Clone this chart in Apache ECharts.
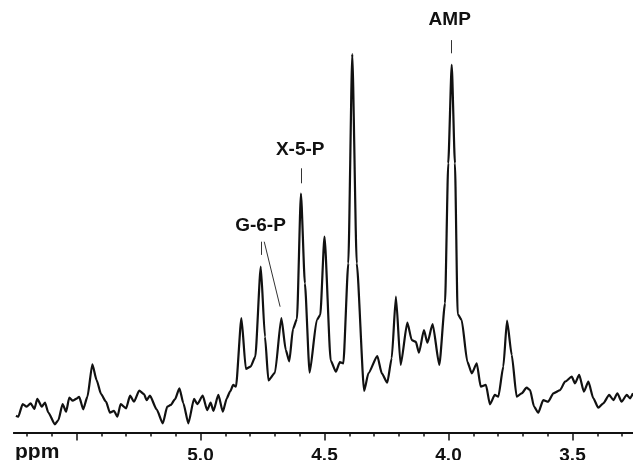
<!DOCTYPE html>
<html>
<head>
<meta charset="utf-8">
<script src="https://cdn.jsdelivr.net/npm/echarts@6/dist/echarts.min.js"></script>
<style>
html,body{margin:0;padding:0;background:#fff;}
#chart{width:633px;height:460px;}
</style>
</head>
<body>
<div id="chart"></div>
<script>
// Chemical shift (ppm) and signal intensity (arbitrary units)
const shiftPpm = [
5.744,5.735,5.717,5.701,5.685,5.670,5.658,5.640,5.627,5.614,
5.587,5.573,5.556,5.542,5.529,5.515,5.502,5.489,5.473,5.456,
5.436,5.419,5.401,5.381,5.365,5.349,5.335,5.322,5.300,5.284,
5.268,5.247,5.228,5.217,5.204,5.177,5.152,5.134,5.120,5.103,
5.085,5.069,5.049,5.026,5.013,4.991,4.973,4.959,4.948,4.928,
4.910,4.894,4.881,4.868,4.857,4.835,4.817,4.798,4.779,4.757,
4.740,4.726,4.700,4.674,4.656,4.642,4.627,4.611,4.595,4.579,
4.560,4.531,4.517,4.500,4.475,4.454,4.438,4.424,4.404,4.388,
4.370,4.340,4.323,4.287,4.269,4.247,4.229,4.212,4.193,4.166,
4.148,4.132,4.119,4.099,4.085,4.064,4.037,4.014,4.001,3.987,
3.974,3.963,3.947,3.924,3.906,3.886,3.870,3.849,3.833,3.813,
3.799,3.779,3.764,3.745,3.725,3.705,3.685,3.671,3.655,3.638,
3.618,3.598,3.577,3.550,3.530,3.503,3.490,3.473,3.454,3.436,
3.416,3.396,3.376,3.352,3.335,3.319,3.302,3.281,3.268,3.256
];
const intensity = [
4.2,3.95,7.1,6.45,7.3,5.9,8.4,6.45,7.45,5.05,
2.05,3.1,7.1,5.2,8.7,7.95,8.4,8.9,5.8,8.95,
17.05,13.1,9.6,7.7,4.95,5.4,3.95,7.1,6.05,9.2,
7.7,10.45,9.6,8.1,9.2,5.8,2.3,6.45,6.9,8.3,
11.05,7.3,2.3,8.4,7.1,9.2,5.6,7.45,5.4,9.4,
5.2,8.55,10.2,11.9,11.45,28.6,15.9,16.45,18.95,41.45,
23.95,13.0,14.9,28.6,20.6,17.8,25.9,28.4,59.75,37.3,
14.95,28.1,29.4,49.0,18.0,15.2,17.6,17.3,42.3,94.6,
42.3,10.4,14.8,19.1,14.8,12.45,18.55,33.95,16.9,27.45,
23.1,22.7,19.95,25.6,22.45,27.1,16.9,32.3,67.3,91.9,
67.3,29.6,28.1,17.7,14.8,17.3,11.45,11.9,7.05,9.4,
8.95,16.45,27.95,19.4,8.95,9.8,11.2,10.6,6.45,4.95,
8.1,7.7,9.8,10.6,12.7,13.95,12.3,14.4,10.2,12.7,
8.55,6.2,7.3,9.4,8.1,9.8,7.7,9.4,8.55,9.8
];

// Axis range and ticks (ppm)
const axisMin = 3.256;
const axisMax = 5.752;
const intensityMax = 108.125;
const majorTicks = [3.5, 4.0, 4.5, 5.0, 5.5];
const minorTicks = [3.3,3.4,3.6,3.7,3.8,3.9,4.1,4.2,4.3,4.4,4.6,4.7,4.8,4.9,5.1,5.2,5.3,5.4,5.6,5.7];
const tickLabels = [3.5, 4.0, 4.5, 5.0];
const axisUnit = 'ppm';

// Peak annotations
const annotNames = ['G-6-P', 'X-5-P', 'AMP'];
const annotLabelPpm = [4.758, 4.598, 3.995];
const annotLabelInt = [51.7, 70.6, 103.2];
// leader lines: from (ppmA, intA) to (ppmB, intB)
const leaderPpmA = [4.756, 4.743, 4.595, 3.990];
const leaderIntA = [47.7, 47.7, 66.05, 98.1];
const leaderPpmB = [4.756, 4.679, 4.595, 3.990];
const leaderIntB = [44.4, 31.45, 62.3, 94.8];

const FONT = "'Liberation Sans', Arial, Helvetica, sans-serif";
const INK = '#111';

const spectrum = shiftPpm.map((p, i) => [p, intensity[i]]);
const markPts = annotNames.map((n, i) => ({
  name: n, coord: [annotLabelPpm[i], annotLabelInt[i]]
}));
const markLns = leaderPpmA.map((p, i) => [
  { coord: [p, leaderIntA[i]] },
  { coord: [leaderPpmB[i], leaderIntB[i]] }
]);

const chart = echarts.init(document.getElementById('chart'), null, { renderer: 'canvas' });
chart.setOption({
  animation: false,
  backgroundColor: '#fff',
  grid: { left: 14, right: 0, top: 0, bottom: 27.5, containLabel: false, outerBoundsMode: 'none' },
  xAxis: [
    {
      type: 'value', inverse: true, min: axisMin, max: axisMax, position: 'bottom',
      axisLine: { show: true, lineStyle: { color: INK, width: 2 } },
      axisTick: { show: true, customValues: majorTicks, length: 8, lineStyle: { color: INK, width: 1.5 } },
      axisLabel: {
        show: true, customValues: tickLabels, margin: 14,
        formatter: v => v.toFixed(1),
        fontFamily: FONT, fontSize: 19, fontWeight: 'bold', color: INK
      },
      splitLine: { show: false }
    },
    {
      type: 'value', inverse: true, min: axisMin, max: axisMax, position: 'bottom',
      axisLine: { show: true, lineStyle: { color: INK, width: 2 } },
      axisTick: { show: true, customValues: minorTicks, length: 4, lineStyle: { color: INK, width: 1.5 } },
      axisLabel: { show: true, customValues: minorTicks, formatter: () => '', color: 'rgba(0,0,0,0)' },
      splitLine: { show: false }
    }
  ],
  yAxis: { type: 'value', min: 0, max: intensityMax, show: false },
  graphic: [{
    type: 'text', left: 15, top: 441.5,
    style: { text: axisUnit, font: "bold 21px " + FONT, fill: INK }
  }],
  series: [{
    type: 'line',
    xAxisIndex: 0,
    data: spectrum,
    showSymbol: false,
    clip: false,
    smooth: 0.2,
    smoothMonotone: 'x',
    lineStyle: { color: INK, width: 2.2 },
    markLine: {
      silent: true,
      symbol: ['none', 'none'],
      label: { show: false },
      lineStyle: { color: '#333', width: 1, type: 'solid' },
      data: markLns
    },
    markPoint: {
      silent: true,
      symbol: 'circle',
      symbolSize: 1,
      itemStyle: { color: 'rgba(0,0,0,0)' },
      label: {
        show: true, position: 'inside', formatter: '{b}',
        fontFamily: FONT, fontSize: 19, fontWeight: 'bold', color: INK
      },
      data: markPts
    }
  }]
});
</script>
</body>
</html>
